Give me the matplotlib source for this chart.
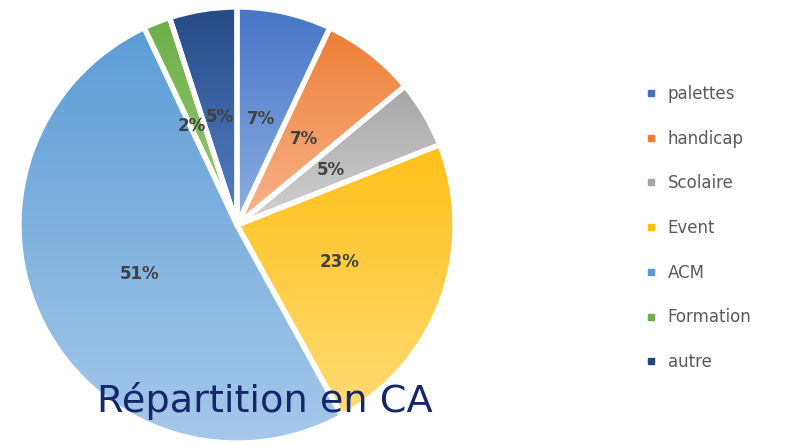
import numpy as np
import matplotlib
matplotlib.use("Agg")
import matplotlib.pyplot as plt
from matplotlib.colors import to_rgb
from matplotlib.lines import Line2D

# données
categories = ["palettes", "handicap", "Scolaire", "Event", "ACM", "Formation", "autre"]
parts = [7, 7, 5, 23, 51, 2, 5]
titre = "Répartition en CA"

# couleurs (haut / bas du dégradé, style Office)
couleurs = ["#4472C4", "#ED7D31", "#A5A5A5", "#FFC000", "#5B9BD5", "#70AD47", "#264478"]
couleurs_haut = ["#4674C6", "#EE7E34", "#A6A6A6", "#FFC018", "#5C9DD6", "#6DAE48", "#274A85"]
couleurs_bas = ["#8EB0E2", "#F9B48E", "#D2D2D2", "#FFDB75", "#A6C8EA", "#98CC78", "#5581C8"]

W, H = 790, 444
fig = plt.figure(figsize=(W / 100, H / 100), dpi=100)

# axe du camembert : centre (237, 225) px, rayon 218 px
cx, cy, r = 237, 225, 218
ax = fig.add_axes([(cx - r) / W, (H - cy - r) / H, 2 * r / W, 2 * r / H])

wedges, _, autotexts = ax.pie(
    parts, startangle=90, counterclock=False, radius=1,
    autopct="%1.0f%%", pctdistance=0.5,
    wedgeprops=dict(facecolor="none", edgecolor="white", linewidth=3.8,
                    joinstyle="round"),
    textprops=dict(fontsize=12, color="#404040", fontweight="bold"),
)

# dégradé vertical dans chaque part (plus foncé en haut)
for w, c1, c2 in zip(wedges, couleurs_haut, couleurs_bas):
    bb = w.get_path().get_extents(w.get_transform() - ax.transData)
    haut = np.array(to_rgb(c1))
    bas = np.array(to_rgb(c2))
    t = np.linspace(0, 1, 256)[:, None]
    grad = (haut * (1 - t) + bas * t)[:, None, :]
    im = ax.imshow(grad, extent=[bb.x0, bb.x1, bb.y0, bb.y1], origin="upper",
                   aspect="auto", zorder=0.5, interpolation="bilinear")
    im.set_clip_path(w)

for txt in autotexts:
    txt.set_zorder(3)
# les étiquettes 2% et 5% se touchent presque
x2, y2 = autotexts[5].get_position()
autotexts[5].set_position((x2 - 0.025, y2 - 0.01))

ax.set_xlim(-1, 1)
ax.set_ylim(-1, 1)
ax.set_aspect("equal")
ax.axis("off")

# légende
poignees = [Line2D([], [], linestyle="none", marker="s", markersize=4,
                   markerfacecolor=c, markeredgecolor=c) for c in couleurs]
fig.legend(poignees, categories, loc="upper left",
           bbox_to_anchor=(631 / W, 1 - 70 / H), frameon=False,
           fontsize=12, labelcolor="#595959", labelspacing=1.6,
           handlelength=0.6, handletextpad=0.7)

# titre en bas à gauche
fig.text(97 / W, 1 - 412 / H, titre, fontsize=27.5, color="#15266B",
         va="baseline", ha="left", zorder=5)

fig.savefig("out.png", dpi=100)
